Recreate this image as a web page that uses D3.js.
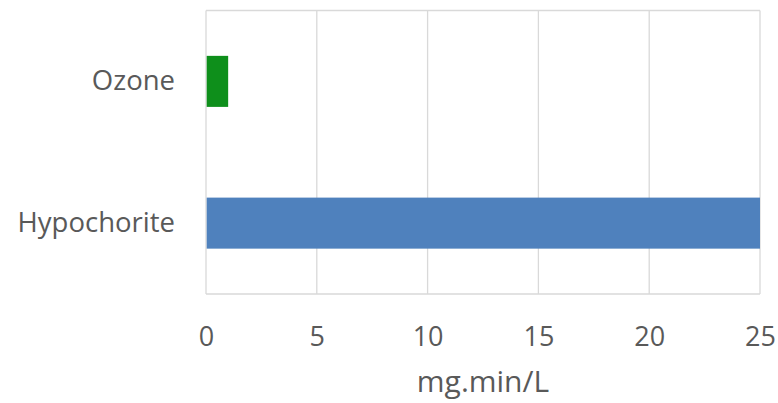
<!DOCTYPE html>
<html>
<head>
<meta charset="utf-8">
<script src="https://cdn.jsdelivr.net/npm/d3@7"></script>
<style>
  body { margin: 0; background: #fff; }
  text { font-family: "Open Sans", sans-serif; fill: #595959; }
</style>
</head>
<body>
<div id="chart"></div>
<script>
// data
const categories = ["Ozone", "Hypochorite"];
const values = [1, 25];
const barColors = ["#0e8f1b", "#4f81bd"];
const xTicks = [0, 5, 10, 15, 20, 25];
const xTitle = "mg.min/L";

const width = 778, height = 403;
const margin = {top: 10.5, right: 18, bottom: 109, left: 206};
const plotW = width - margin.left - margin.right;
const plotH = height - margin.top - margin.bottom;

let svg = d3.select("#chart").append("svg")
    .attr("width", width)
    .attr("height", height);

let x = d3.scaleLinear().domain([0, 25]).range([0, plotW]);
let y = d3.scaleBand().domain(categories).range([0, plotH]).paddingInner(0.64).paddingOuter(0.32);

let g = svg.append("g").attr("transform", "translate(" + margin.left + "," + margin.top + ")");

// gridlines
g.selectAll("line.grid").data(xTicks).enter().append("line")
    .attr("class", "grid")
    .attr("x1", d => x(d)).attr("x2", d => x(d))
    .attr("y1", 0).attr("y2", plotH)
    .attr("stroke", "#d9d9d9").attr("stroke-width", 1.3);

// top and bottom border
[0, plotH].forEach(yy => {
    g.append("line")
        .attr("x1", 0).attr("x2", plotW)
        .attr("y1", yy).attr("y2", yy)
        .attr("stroke", "#d9d9d9").attr("stroke-width", 1.3);
});

// bars
g.selectAll("rect.bar").data(categories).enter().append("rect")
    .attr("class", "bar")
    .attr("x", x(0) + 0.7)
    .attr("y", d => y(d))
    .attr("width", (d, i) => x(values[i]) - x(0) - 0.7)
    .attr("height", y.bandwidth())
    .attr("fill", (d, i) => barColors[i]);

// x axis labels
let xAxis = g.append("g")
    .attr("transform", "translate(0," + plotH + ")")
    .call(d3.axisBottom(x).tickValues(xTicks).tickSize(0).tickPadding(33));
xAxis.select(".domain").remove();
xAxis.selectAll("text").style("font-size", "27px").attr("fill", "#595959");

// y axis labels
let yAxis = g.append("g")
    .call(d3.axisLeft(y).tickSize(0).tickPadding(31));
yAxis.select(".domain").remove();
yAxis.selectAll("text").style("font-size", "27.5px").attr("fill", "#595959");

// axis title
svg.append("text")
    .attr("x", margin.left + plotW / 2)
    .attr("y", 392)
    .attr("text-anchor", "middle")
    .style("font-size", "30px")
    .text(xTitle);
</script>
</body>
</html>
